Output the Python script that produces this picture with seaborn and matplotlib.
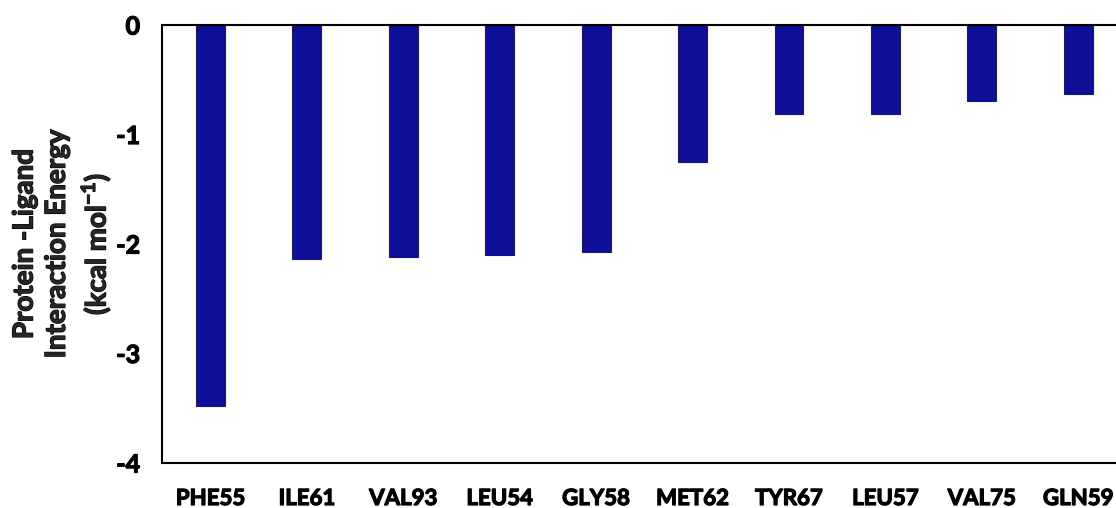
import matplotlib
matplotlib.use("Agg")
import matplotlib.pyplot as plt
import matplotlib.patheffects as pe
import seaborn as sns
import pandas as pd

residues = ["PHE55", "ILE61", "VAL93", "LEU54", "GLY58",
            "MET62", "TYR67", "LEU57", "VAL75", "GLN59"]
energies = [-3.48, -2.14, -2.12, -2.10, -2.07,
            -1.25, -0.81, -0.81, -0.69, -0.63]
y_ticks = [0, -1, -2, -3, -4]

sns.set_theme(style="white")
plt.rcParams["font.family"] = ["Lato", "DejaVu Sans"]
plt.rcParams["mathtext.fontset"] = "custom"
plt.rcParams["mathtext.bf"] = "Lato:bold"
plt.rcParams["mathtext.rm"] = "Lato:bold"

df = pd.DataFrame({"residue": residues, "energy": energies})

fig = plt.figure(figsize=(11.16, 5.08), dpi=100)
ax = fig.add_axes([0.1454, 0.0886, 0.8640, 0.8622])

sns.barplot(data=df, x="residue", y="energy", order=residues,
            color="#0e0e96", saturation=1, width=0.30,
            edgecolor="#1c1c5a", linewidth=0.8, ax=ax)

ax.set_xlim(-0.5, 9.5)
ax.set_ylim(-4, 0)
ax.set_yticks(y_ticks)
ax.set_yticklabels([str(t) for t in y_ticks])
ax.tick_params(axis="both", length=0)
ax.tick_params(axis="x", pad=18, labelsize=16)
ax.tick_params(axis="y", pad=16, labelsize=18)

heavy = [pe.withStroke(linewidth=0.9, foreground="black")]
for lab in ax.get_xticklabels() + ax.get_yticklabels():
    lab.set_fontweight("bold")
    lab.set_color("black")
    lab.set_path_effects(heavy)

ax.set_xlabel("")
ax.set_ylabel("Protein -Ligand\nInteraction Energy\n(kcal mol$^{-1}$)",
              fontsize=20, fontweight="bold", labelpad=3, linespacing=1.3,
              path_effects=heavy)

for side in ["left", "top", "bottom"]:
    ax.spines[side].set_visible(True)
    ax.spines[side].set_color("black")
    ax.spines[side].set_linewidth(1.5)
ax.spines["right"].set_visible(False)

fig.savefig("out.png", dpi=100)
